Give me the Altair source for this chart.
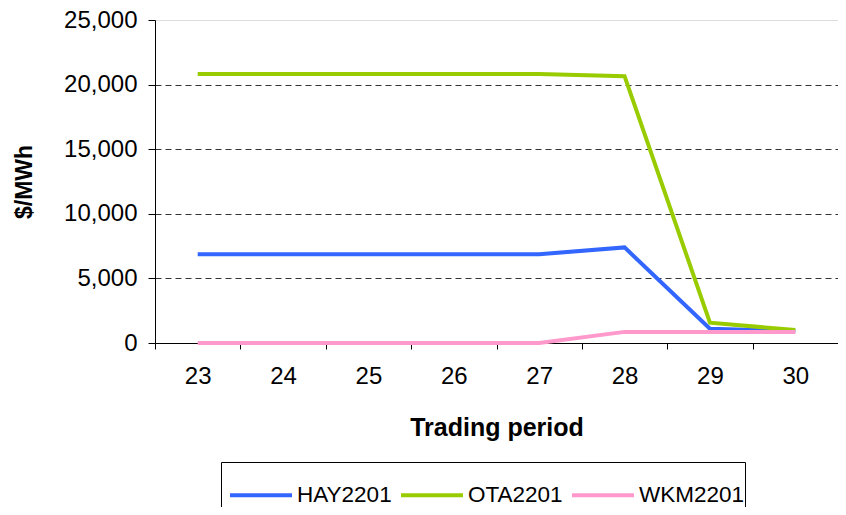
import altair as alt
import pandas as pd

periods = [23, 24, 25, 26, 27, 28, 29, 30]
hay = [6870, 6870, 6870, 6870, 6870, 7400, 1100, 920]
ota = [20830, 20830, 20830, 20830, 20830, 20650, 1570, 1000]
wkm = [0, 0, 0, 0, 0, 860, 860, 860]
series = ["HAY2201", "OTA2201", "WKM2201"]
colors = ["#3366FF", "#99CC00", "#FF99CC"]
y_ticks = [0, 5000, 10000, 15000, 20000, 25000]

rows = []
for name, vals in zip(series, [hay, ota, wkm]):
    for p, v in zip(periods, vals):
        rows.append({"period": str(p), "price": v, "node": name})
df = pd.DataFrame(rows)

FONT = "Liberation Sans"

xenc = alt.X("period:O", sort=[str(p) for p in periods],
             scale=alt.Scale(paddingInner=0, paddingOuter=0),
             axis=alt.Axis(title="Trading period", labelAngle=0, tickBand="extent",
                           labelFontSize=24, titleFontSize=25, titleFontWeight="bold",
                           labelPadding=15, titlePadding=27, domainColor="black",
                           tickColor="black", tickSize=6, labelColor="black",
                           titleColor="black", labelFont=FONT, titleFont=FONT,
                           grid=False))

lines = alt.Chart(df).mark_line(strokeWidth=4).encode(
    x=xenc,
    y=alt.Y("price:Q", scale=alt.Scale(domain=[0, 25000], nice=False),
            axis=alt.Axis(title="$/MWh", values=y_ticks,
                          format=",.0f", grid=True, gridColor="#333333", gridDash=[6, 4],
                          gridOpacity=alt.ExprRef("datum.value > 0 && datum.value < 25000 ? 1 : 0"),
                          labelFontSize=24, titleFontSize=23,
                          titleFontWeight="bold", labelPadding=11, titlePadding=27,
                          domainColor="black", tickColor="black", tickSize=7,
                          labelColor="black", titleColor="black",
                          labelFont=FONT, titleFont=FONT)),
    color=alt.Color("node:N", scale=alt.Scale(domain=series, range=colors),
                    legend=alt.Legend(title=None, orient="none", direction="horizontal",
                                      legendX=66, legendY=442, symbolType="stroke",
                                      symbolSize=3844, symbolStrokeWidth=4,
                                      labelFontSize=22.5, labelFont=FONT, labelColor="black",
                                      strokeColor="black", padding=0, columnPadding=-52,
                                      symbolOffset=7, labelOffset=3)),
    order=alt.Order("period:O")
)

chart = lines.properties(
    width=683, height=323,
    autosize=alt.AutoSizeParams(type="none"),
    padding={"left": 147, "top": 12, "right": 0, "bottom": 164},
).configure_view(stroke="#888888", strokeWidth=2).configure(background="white")

chart.save("out.html", embed_options={"renderer": "svg", "actions": False})
